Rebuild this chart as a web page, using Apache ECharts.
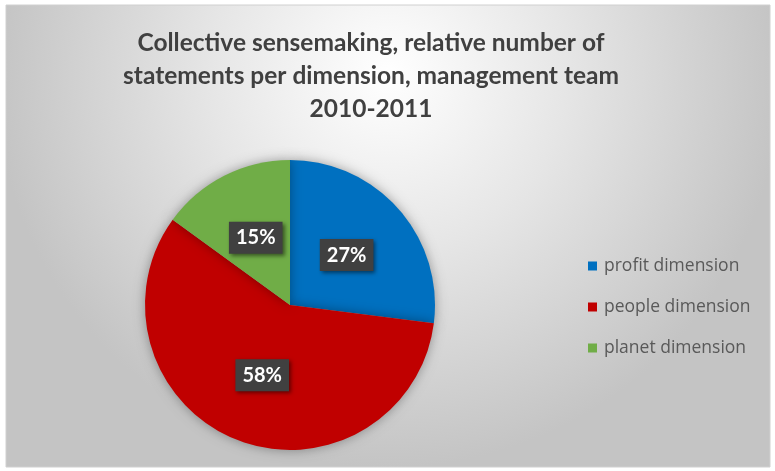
<!DOCTYPE html>
<html>
<head>
<meta charset="utf-8">
<script src="https://cdn.jsdelivr.net/npm/echarts@6/dist/echarts.min.js"></script>
<style>
  html, body { margin: 0; padding: 0; background: #fff; }
  #chart { width: 775px; height: 471px; }
</style>
</head>
<body>
<div id="chart"></div>
<script>
const titleText = 'Collective sensemaking, relative number of\nstatements per dimension, management team\n2010-2011'
const categories = ['profit dimension', 'people dimension', 'planet dimension']
const shares = [27, 58, 15]
const colors = ['#0070C0', '#C00000', '#70AD47']

const chart = echarts.init(document.getElementById('chart'))

chart.setOption({
  backgroundColor: '#ffffff',
  animation: false,
  graphic: [{
    type: 'rect',
    z: -10,
    shape: { x: 6, y: 5, width: 764, height: 462 },
    style: {
      fill: new echarts.graphic.RadialGradient(0.5, 0.15, 0.85, [
        { offset: 0, color: '#ffffff' },
        { offset: 0.45, color: '#e6e6e6' },
        { offset: 1, color: '#c4c4c4' }
      ]),
      stroke: '#d0d0d0',
      lineWidth: 1
    }
  }],
  title: {
    text: titleText,
    left: 366,
    top: 22,
    textAlign: 'center',
    textStyle: {
      fontFamily: 'Lato',
      fontWeight: 'bold',
      fontSize: 24.5,
      lineHeight: 33,
      color: '#404040'
    }
  },
  legend: {
    orient: 'vertical',
    left: 583,
    top: 249,
    itemWidth: 9,
    itemHeight: 9,
    itemGap: 17,
    icon: 'rect',
    data: categories,
    textStyle: {
      fontFamily: 'Open Sans',
      fontSize: 17.5,
      lineHeight: 24,
      color: '#595959',
      padding: [0, 0, 0, 2]
    }
  },
  series: [{
    type: 'pie',
    center: [290, 305],
    radius: 145,
    startAngle: 90,
    clockwise: true,
    label: {
      show: true,
      position: 'inside',
      formatter: '{c}%',
      fontFamily: 'Lato',
      fontWeight: 'bold',
      fontSize: 20,
      color: '#ffffff',
      backgroundColor: '#404040',
      padding: [7, 7, 5, 7],
      shadowColor: 'rgba(0,0,0,0.5)',
      shadowBlur: 4,
      shadowOffsetX: 2,
      shadowOffsetY: 2
    },
    labelLine: { show: false },
    itemStyle: {
      shadowColor: 'rgba(0,0,0,0.35)',
      shadowBlur: 12
    },
    emphasis: { disabled: true },
    data: categories.map((name, i) => ({
      name,
      value: shares[i],
      itemStyle: { color: colors[i] }
    }))
  }]
})
</script>
</body>
</html>
